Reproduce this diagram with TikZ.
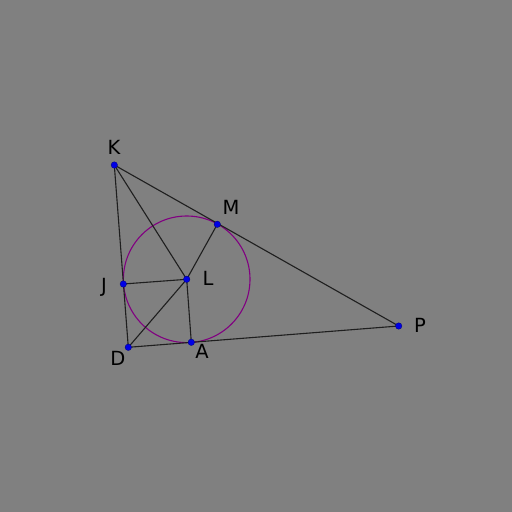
\documentclass[tikz,border=0pt]{standalone}
\usepackage{fontspec}
\setmainfont{DejaVu Sans}
\begin{document}
\begin{tikzpicture}[x=1pt,y=-1pt,
  seg/.style={draw=black!88, line width=1.1pt},
  circ/.style={draw={rgb,255:red,128;green,0;blue,128}, line width=1.1pt},
  pt/.style={circle, fill={rgb,255:red,0;green,0;blue,230}, draw={rgb,255:red,0;green,0;blue,120}, line width=0.3pt, inner sep=0pt, minimum size=6.5pt},
  lab/.style={font=\fontsize{19.5}{23}\selectfont, text=black}]
\fill[gray] (0,0) rectangle (512,512);
\useasboundingbox (0,0) rectangle (512,512);
\coordinate (K) at (114.3,165);
\coordinate (M) at (217.3,224.3);
\coordinate (J) at (123.3,284);
\coordinate (L) at (186.7,279.3);
\coordinate (D) at (128.3,347.3);
\coordinate (A) at (191.3,342.3);
\coordinate (P) at (398.7,326);
\draw[circ] (L) circle (63.3);
\draw[seg] (K) -- (P) -- (D) -- cycle;
\draw[seg] (K) -- (L);
\draw[seg] (D) -- (L);
\draw[seg] (M) -- (L);
\draw[seg] (J) -- (L);
\draw[seg] (A) -- (L);
\foreach \p in {K,M,J,L,D,A,P} \node[pt] (n\p) at (\p) {};
\node[lab] (tK) at (114,147) {K};
\node[lab] (tM) at (231,207) {M};
\node[lab] (tJ) at (104,287) {J};
\node[lab] (tL) at (208,278) {L};
\node[lab] (tD) at (118,358) {D};
\node[lab] (tA) at (202,351) {A};
\node[lab] (tP) at (420,325) {P};
\end{tikzpicture}
\end{document}
